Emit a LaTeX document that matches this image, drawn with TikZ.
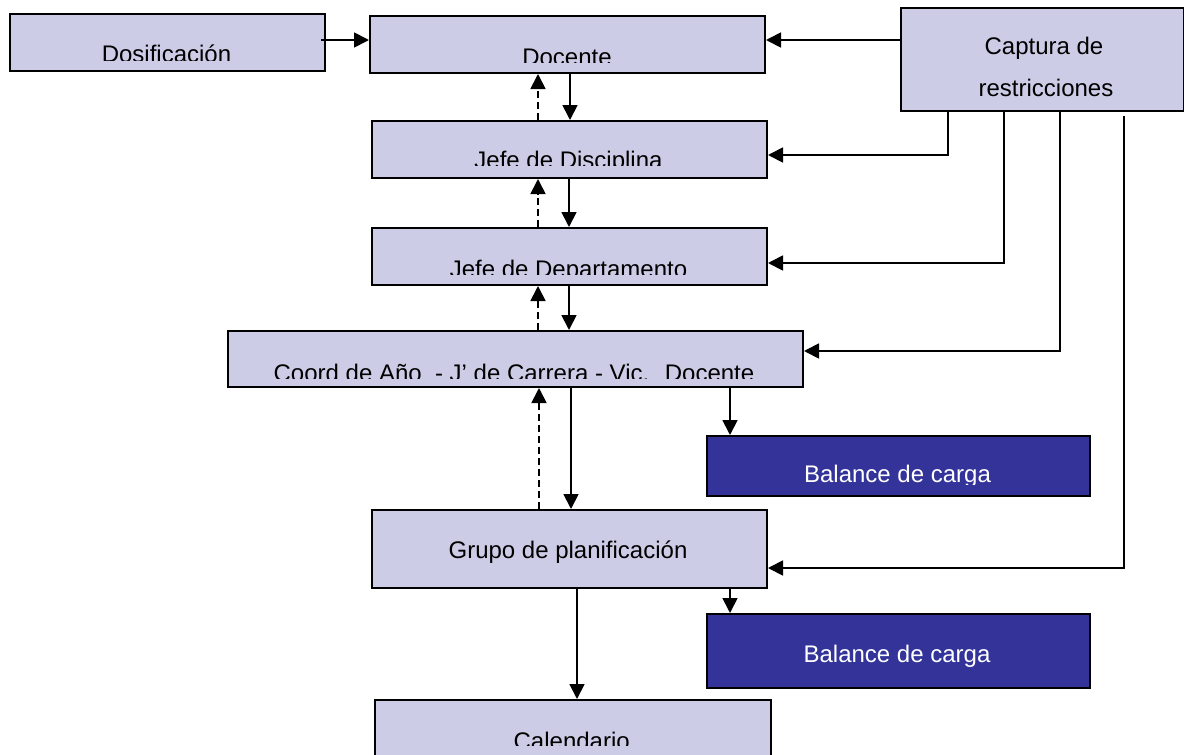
\documentclass[tikz,border=0pt]{standalone}
\usepackage{fontspec}
\setmainfont{Liberation Sans}
\usetikzlibrary{arrows.meta}
\definecolor{boxfill}{RGB}{204,204,230}
\definecolor{darkfill}{RGB}{51,51,153}
\tikzset{
  box/.style={draw=black, line width=2pt, fill=boxfill, inner sep=0pt, anchor=north west},
  darkbox/.style={box, fill=darkfill},
  lbl/.style={inner sep=0pt, anchor=base, font=\fontsize{24}{28}\selectfont},
  wlbl/.style={lbl, text=white},
  arr/.style={line width=1.8pt, -{Triangle[length=15pt,width=15pt]}},
  darr/.style={arr, dash pattern=on 7pt off 4pt},
}
\begin{document}
\begin{tikzpicture}[x=1pt, y=-1pt]
\useasboundingbox (0,0) rectangle (1184,755);
\fill[white] (0,0) rectangle (1184,755);

% boxes
\node[box, minimum width=315, minimum height=57] (dos) at (9,13) {};
\node[box, minimum width=395, minimum height=57] (doc) at (369,15) {};
\node[box, minimum width=283, minimum height=103] (cap) at (900,7) {};
\node[box, minimum width=395, minimum height=57] (jd) at (371,120) {};
\node[box, minimum width=395, minimum height=57] (jdep) at (371,227) {};
\node[box, minimum width=575, minimum height=56] (coord) at (227,330) {};
\node[darkbox, minimum width=383, minimum height=60] (bal1) at (706,435) {};
\node[box, minimum width=395, minimum height=78] (grupo) at (371,509) {};
\node[darkbox, minimum width=383, minimum height=74] (bal2) at (706,613) {};
\node[box, minimum width=396, minimum height=80] (cal) at (374,699) {};

% labels (lower part of some labels is cut by the frame)
\begin{scope}\clip (9,13) rectangle (324,60.2);
\node[lbl] (dosT) at (166.5,62.8) {Dosificación};\end{scope}
\begin{scope}\clip (369,15) rectangle (764,62.6);
\node[lbl] (docT) at (567,65.3) {Docente};\end{scope}
\begin{scope}\clip (371,120) rectangle (766,165.6);
\node[lbl] (jdT) at (568.5,168.4) {Jefe de Disciplina};\end{scope}
\begin{scope}\clip (371,227) rectangle (766,274.2);
\node[lbl] (jdepT) at (568.5,277) {Jefe de Departamento};\end{scope}
\begin{scope}\clip (227,330) rectangle (802,378.3);
\node[lbl] (coordT) at (514,381) {Coord de Año \ - J’ de Carrera - Vic. \ Docente};\end{scope}
\begin{scope}\clip (706,435) rectangle (1089,484.2);
\node[wlbl] (bal1T) at (897.5,482.7) {Balance de carga};\end{scope}
\node[lbl] (grupoT) at (568,558.5) {Grupo de planificación};
\node[wlbl] (bal2T) at (897,662.3) {Balance de carga};
\begin{scope}\clip (374,699) rectangle (770,745);
\node[lbl] (calT) at (571.7,749.5) {Calendario};\end{scope}
\node[lbl] (capT1) at (1044,54.3) {Captura de};
\node[lbl] (capT2) at (1046,96.5) {restricciones};

% helper columns and rows
\coordinate (xdown1) at (570,0);
\coordinate (xdown2) at (569,0);
\coordinate (xdown3) at (569,0);
\coordinate (xdown4) at (571,0);
\coordinate (xup) at (538,0);
\coordinate (xup4) at (539,0);
\coordinate (xbal) at (730,0);
\coordinate (xcal) at (577,0);
\coordinate (ytop) at (0,40);
\coordinate (k1) at (948,155);
\coordinate (k2) at (1004,263);
\coordinate (k3) at (1060,351);
\coordinate (k4) at (1124,568);
\coordinate (k4s) at (1124,116);
\coordinate (dosOut) at (321,40);

% top row
\draw[arr] (dosOut) -- (doc.west |- ytop);
\draw[arr] (cap.west |- ytop) -- (doc.east |- ytop);

% chain down and feedback up
\draw[arr] (doc.south -| xdown1) -- (jd.north -| xdown1);
\draw[darr] (jd.north -| xup) -- (doc.south -| xup);
\draw[arr] (jd.south -| xdown2) -- (jdep.north -| xdown2);
\draw[darr] (jdep.north -| xup) -- (jd.south -| xup);
\draw[arr] (jdep.south -| xdown3) -- (coord.north -| xdown3);
\draw[darr] (coord.north -| xup) -- (jdep.south -| xup);
\draw[arr] (coord.south -| xdown4) -- (grupo.north -| xdown4);
\draw[darr] (grupo.north -| xup4) -- (coord.south -| xup4);
\draw[arr] (coord.south -| xbal) -- (bal1.north -| xbal);
\draw[arr] (grupo.south -| xbal) -- (bal2.north -| xbal);
\draw[arr] (grupo.south -| xcal) -- (cal.north -| xcal);

% restrictions feeding each level
\draw[arr] (cap.south -| k1) -- (k1) -- (jd.east |- k1);
\draw[arr] (cap.south -| k2) -- (k2) -- (jdep.east |- k2);
\draw[arr] (cap.south -| k3) -- (k3) -- (coord.east |- k3);
\draw[arr] (k4s) -- (k4) -- (grupo.east |- k4);
\end{tikzpicture}
\end{document}
